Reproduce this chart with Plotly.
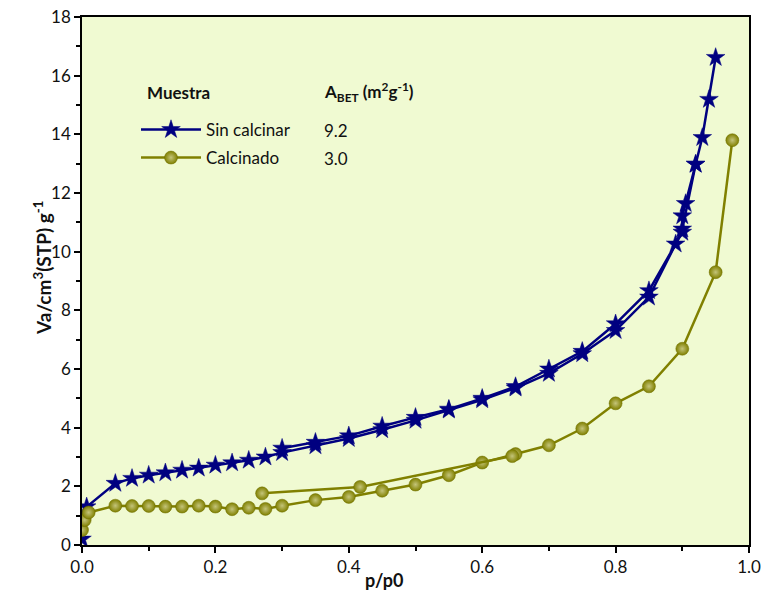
import plotly.graph_objects as go

# Sin calcinar (stars)
sc_ads_x = [0.0, 0.007, 0.05, 0.075, 0.1, 0.125, 0.15, 0.175, 0.2, 0.225, 0.25, 0.275,
            0.3, 0.35, 0.4, 0.45, 0.5, 0.55, 0.6, 0.65, 0.7, 0.75, 0.8, 0.85, 0.89, 0.9,
            0.92, 0.93, 0.94, 0.95]
sc_ads_y = [0.2, 1.3, 2.1, 2.27, 2.38, 2.46, 2.55, 2.62, 2.72, 2.8, 2.89, 3.0,
            3.15, 3.38, 3.63, 3.93, 4.25, 4.6, 4.95, 5.35, 5.85, 6.52, 7.31, 8.45, 10.26, 10.77,
            12.98, 13.89, 15.19, 16.62]
sc_des_x = [0.92, 0.905, 0.9, 0.9, 0.85, 0.8, 0.75, 0.7, 0.65, 0.6, 0.55, 0.5, 0.45,
            0.4, 0.35, 0.3]
sc_des_y = [12.98, 11.64, 11.22, 10.66, 8.67, 7.54, 6.6, 6.0, 5.4, 5.0, 4.63, 4.35, 4.05,
            3.72, 3.5, 3.3]

# Calcinado (spheres)
c_ads_x = [0.0, 0.004, 0.01, 0.05, 0.075, 0.1, 0.125, 0.15, 0.175, 0.2, 0.225, 0.25, 0.275,
           0.3, 0.35, 0.4, 0.45, 0.5, 0.55, 0.6, 0.65, 0.7, 0.75, 0.8, 0.85, 0.9, 0.95, 0.975]
c_ads_y = [0.51, 0.85, 1.11, 1.34, 1.33, 1.33, 1.31, 1.31, 1.34, 1.31, 1.22, 1.27, 1.23,
           1.34, 1.53, 1.64, 1.85, 2.06, 2.38, 2.81, 3.1, 3.4, 3.97, 4.83, 5.41, 6.69, 9.3, 13.8]
c_des_x = [0.645, 0.417, 0.27]
c_des_y = [3.03, 1.98, 1.76]

abet_values = ["9.2", "3.0"]
x_ticks = [0, 0.2, 0.4, 0.6, 0.8, 1.0]
x_ticktext = ["0.0", "0.2", "0.4", "0.6", "0.8", "1.0"]

NAVY = "#000080"
OLIVE = "#808000"
FONT = "Lato"
TXT = "#111"

W, H = 761, 594

star_marker = dict(symbol="star", size=14, color=NAVY, line=dict(color=NAVY, width=0.5))
ball_marker = dict(symbol="circle", size=13, color=OLIVE,
                   gradient=dict(type="radial", color="#C4C47A"),
                   line=dict(color="#6E6E00", width=0.5))

fig = go.Figure()
fig.add_trace(go.Scatter(x=sc_ads_x, y=sc_ads_y, mode="lines+markers", name="Sin calcinar",
                         legend="legend", line=dict(color=NAVY, width=2.5), marker=star_marker))
fig.add_trace(go.Scatter(x=sc_des_x, y=sc_des_y, mode="lines+markers", showlegend=False,
                         line=dict(color=NAVY, width=2.5), marker=star_marker))
fig.add_trace(go.Scatter(x=c_ads_x, y=c_ads_y, mode="lines+markers", name="Calcinado",
                         legend="legend2", line=dict(color=OLIVE, width=2.5), marker=ball_marker))
fig.add_trace(go.Scatter(x=c_des_x, y=c_des_y, mode="lines+markers", showlegend=False,
                         line=dict(color=OLIVE, width=2.5), marker=ball_marker))

axis_common = dict(showline=True, linecolor="black", linewidth=1.5, mirror=True,
                   ticks="outside", ticklen=6, tickwidth=1.5, tickcolor="black",
                   showgrid=False, zeroline=False, automargin=False,
                   ticklabeloverflow="allow",
                   tickfont=dict(family=FONT, size=17, color=TXT))

fig.update_xaxes(range=[0, 1.0], tickvals=x_ticks, ticktext=x_ticktext,
                 minor=dict(dtick=0.1, ticks="outside", ticklen=4, tickwidth=1.5, tickcolor="black"),
                 **axis_common)
fig.update_yaxes(range=[0, 18], dtick=2,
                 minor=dict(dtick=1, ticks="outside", ticklen=4, tickwidth=1.5, tickcolor="black"),
                 **axis_common)

# pixel -> paper coordinates (plot area: x 82..749, y 17..545)
def sx(px):
    return (px - 82) / 667

def sy(py):
    return (545 - py) / 528

leg_common = dict(xanchor="left", yanchor="middle", bgcolor="rgba(0,0,0,0)", itemwidth=60,
                  font=dict(family=FONT, size=17, color=TXT))

fig.update_layout(
    width=W, height=H,
    margin=dict(l=82, r=W - 749, t=17, b=H - 545),
    paper_bgcolor="white", plot_bgcolor="#F0FAD2",
    font=dict(family=FONT, size=16, color=TXT),
    legend=dict(x=sx(136), y=sy(130), **leg_common),
    legend2=dict(x=sx(136), y=sy(158), **leg_common),
)

ann = []
items = [("<b>Muestra</b>", 145, 92),
         ("<b>A<sub>BET</sub> (m<sup>2</sup>g<sup>-1</sup>)</b>", 322, 92),
         (abet_values[0], 322, 130), (abet_values[1], 322, 158)]
for text, px, py in items:
    ann.append(dict(x=sx(px), y=sy(py), xref="paper", yref="paper", text=text, showarrow=False,
                    xanchor="left", yanchor="middle",
                    font=dict(family=FONT, size=17, color=TXT)))
# axis titles
ann.append(dict(x=sx(384), y=sy(580), xref="paper", yref="paper", text="<b>p/p0</b>",
                showarrow=False, xanchor="center", yanchor="middle",
                font=dict(family=FONT, size=18, color=TXT)))
ann.append(dict(x=sx(42), y=sy(268), xref="paper", yref="paper",
                text="<b>Va/cm<sup>3</sup>(STP) g<sup>-1</sup></b>", textangle=-90,
                showarrow=False, xanchor="center", yanchor="middle",
                font=dict(family=FONT, size=19, color=TXT)))
fig.update_layout(annotations=ann)

# remove the default 8px page margin so the figure fills the window exactly
fig.write_html("out.html", config={"displayModeBar": False},
               post_script="document.body.style.margin='0';document.body.style.overflow='hidden';")
